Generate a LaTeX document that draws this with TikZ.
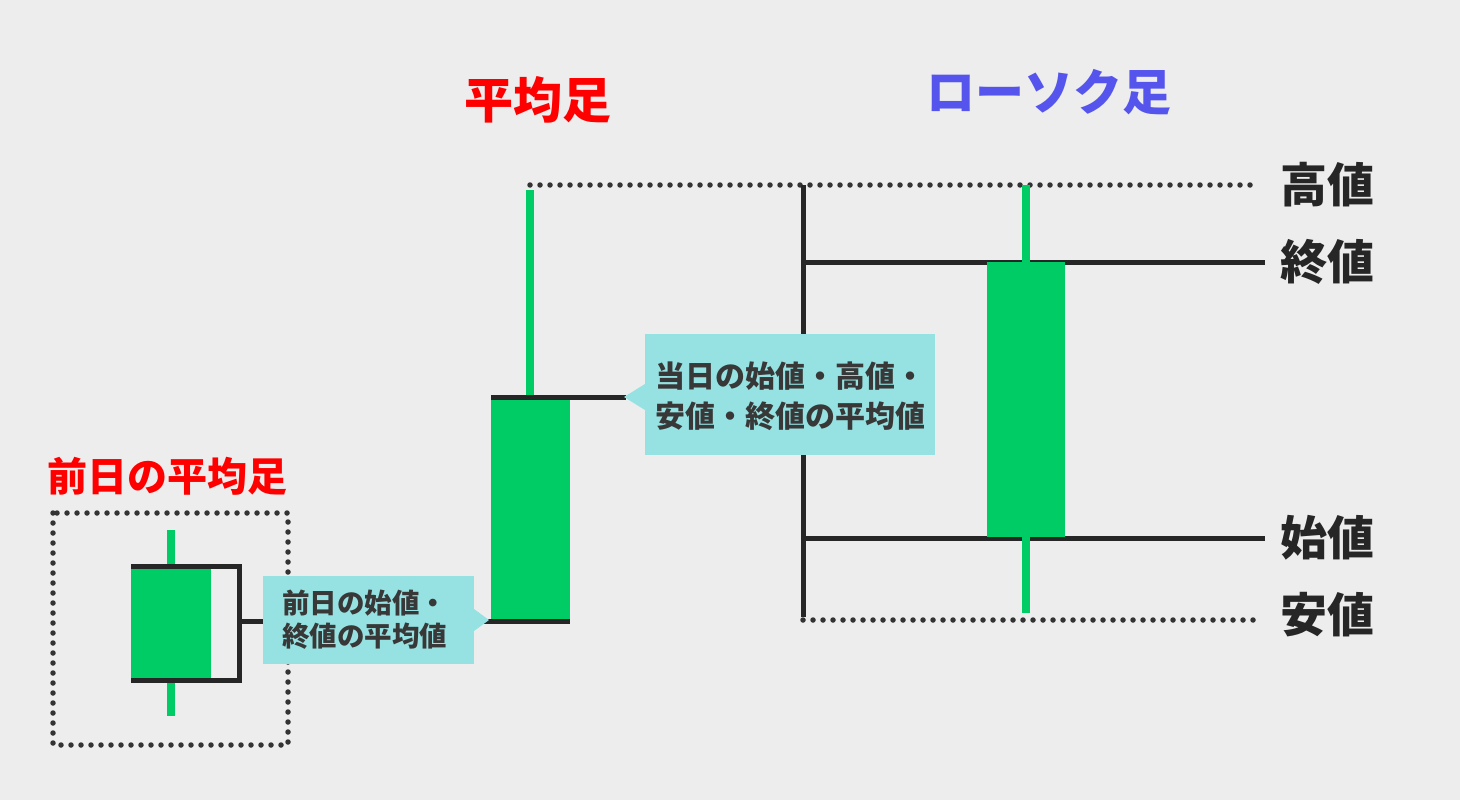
\documentclass[tikz,border=0pt]{standalone}
\usepackage{fontspec}
\setmainfont{Noto Sans CJK JP}
\begin{document}
\begin{tikzpicture}[x=1pt,y=-1pt,
  dots/.style={draw=black!80,line width=5.5pt,line cap=round,dash pattern=on 0pt off 10pt},
  blk/.style={draw=black!85,line width=5pt},
  wick/.style={draw=candle,line width=8pt},
  body/.style={fill=candle},
  callout/.style={fill=callc},
  ctext/.style={text=black!78,font=\bfseries\fontsize{30}{40}\selectfont,align=left,anchor=west,inner sep=0},
  lab/.style={font=\bfseries\fontsize{47}{50}\selectfont,text=black!85,anchor=west,inner sep=0}]
\definecolor{candle}{HTML}{00CC66}
\definecolor{callc}{HTML}{96E2E2}
\definecolor{myred}{HTML}{FF0000}
\definecolor{myblue}{HTML}{5555EE}
\fill[black!7] (0,0) rectangle (1460,800);
\useasboundingbox (0,0) rectangle (1460,800);
% titles
\node[text=myred,font=\bfseries\fontsize{49}{52}\selectfont] (t1) at (538,100) {平均足};
\node[text=myblue,font=\bfseries\fontsize{49}{52}\selectfont] (t2) at (1049,92) {ローソク足};
\node[text=myred,font=\bfseries\fontsize{40}{44}\selectfont] (t3) at (167,476) {前日の平均足};
% right candle frame
\coordinate (th) at (530,185);
\coordinate (te) at (1260,185);
\draw[dots] (th) -- (te);
\coordinate (bl) at (803,620);
\coordinate (be) at (1258,620);
\draw[dots] (bl) -- (be);
\coordinate (vt) at (803,185);
\coordinate (vb) at (803,617);
\draw[blk] (vt) -- (vb);
\coordinate (c1) at (803,262); \coordinate (c2) at (1265,262);
\draw[blk] (c1) -- (c2);
\coordinate (o1) at (803,538); \coordinate (o2) at (1265,538);
\draw[blk] (o1) -- (o2);
\fill[body] (987,262) rectangle (1065,537);
\coordinate (rw1) at (1026,185); \coordinate (rw2) at (1026,613);
\draw[wick] (rw1) -- (rw2);
\node[lab] (hi) at (1280,185) {高値};
\node[lab] (cl) at (1280,262) {終値};
\node[lab] (op) at (1280,538) {始値};
\node[lab] (lo) at (1280,615) {安値};
% middle candle
\fill[body] (491,398) rectangle (570,620);
\coordinate (mw1) at (530,190); \coordinate (mw2) at (530,398);
\draw[wick] (mw1) -- (mw2);
\coordinate (mt1) at (491,397); \coordinate (mt2) at (626,397);
\draw[blk] (mt1) -- (mt2);
\coordinate (mb1) at (482,621); \coordinate (mb2) at (570,621);
\draw[blk] (mb1) -- (mb2);
% middle callout
\fill[callout] (645,334) rectangle (935,455);
\fill[callout] (624,397) -- (645,384) -- (645,410) -- cycle;
\node[ctext] (m1) at (655,396) {当日の始値・高値・\\安値・終値の平均値};
% left candle
\draw[dots] (53,513) rectangle (288,745);
\fill[body] (131,568) rectangle (211,678);
\coordinate (lw1) at (171,530); \coordinate (lw2) at (171,716);
\draw[wick] (lw1) -- (lw2);
\draw[blk] (131,566) -- (239,566) -- (239,680) -- (131,680);
\coordinate (s1) at (239,621); \coordinate (s2) at (263,621);
\draw[blk] (s1) -- (s2);
% left callout
\fill[callout] (263,576) rectangle (474,664);
\fill[callout] (489,620) -- (474,609) -- (474,631) -- cycle;
\node[ctext,font=\bfseries\fontsize{27.5}{33}\selectfont] (l1) at (282,620) {前日の始値・\\終値の平均値};
\end{tikzpicture}
\end{document}
